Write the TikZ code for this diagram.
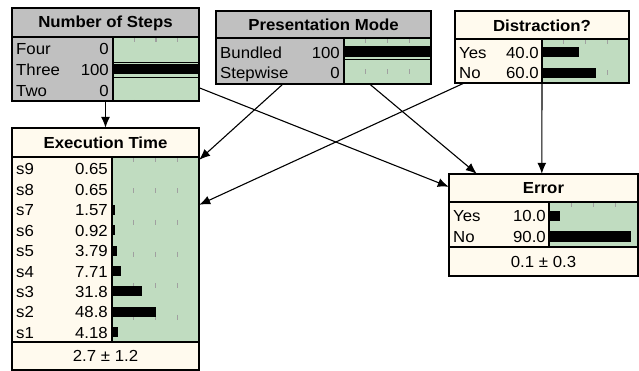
\documentclass[tikz,border=0pt]{standalone}
\usepackage{fontspec}
\setmainfont[FakeStretch=1.05]{Liberation Sans}
\usetikzlibrary{arrows.meta}
\usetikzlibrary{calc}
\definecolor{evidgray}{RGB}{192,192,192}
\definecolor{nodecream}{RGB}{255,250,238}
\definecolor{bargreen}{RGB}{192,220,192}
\definecolor{tickgray}{RGB}{160,160,160}

\begin{document}
\begin{tikzpicture}[x=1pt, y=-1pt,
  every node/.style={inner sep=0pt, font=\fontsize{16}{18}\selectfont},
  title/.style={font=\fontsize{16}{18}\selectfont\bfseries},
  frame/.style={line width=1.5pt},
  sep/.style={line width=1.3pt},
  tick/.style={tickgray, line width=1.2pt, dash pattern=on 5pt off 26.5pt},
  link/.style={line width=1.1pt, -{Latex[length=11pt,width=9pt]}}]
\useasboundingbox (0,0) rectangle (639,371);

% Number of Steps
\node[fill=evidgray, minimum width=187pt, minimum height=93pt] (steps) at (105.5,54.5) {};
\node[title] (stepsT) at (105.5,23) {Number of Steps};
\fill[bargreen] (113,37) rectangle (199,101);
\foreach \x in {0.25,0.5,0.75} \draw[tick] (113+86*\x,37) -- (113+86*\x,101);
\foreach \lab/\val [count=\i] in {Four/0,Three/100,Two/0} {
  \pgfmathsetmacro\y{48.5+(\i-1)*21}
  \pgfmathsetmacro\w{\val>0.8 ? min(86,0.86*\val+2) : 0}
  \node[anchor=base west] (steps-l\i) at (16,\y+6) {\lab};
  \node[anchor=base east] (steps-v\i) at (109,\y+6) {\val};
  \fill (113,\y-5) rectangle ++(\w,10);
}
\draw[line width=0.8pt] (113,62) -- (199,62) (113,77) -- (199,77);
\draw[sep] (12,37) -- (199,37) (113,37) -- (113,101);
\draw[frame] (steps.north west) rectangle (steps.south east);

% Presentation Mode
\node[fill=evidgray, minimum width=215pt, minimum height=73pt] (mode) at (323.5,47.5) {};
\node[title] (modeT) at (323.5,25) {Presentation Mode};
\fill[bargreen] (344,38) rectangle (431,84);
\foreach \x in {0.25,0.5,0.75} \draw[tick] (344+87*\x,38) -- (344+87*\x,84);
\foreach \lab/\val [count=\i] in {Bundled/100,Stepwise/0} {
  \pgfmathsetmacro\y{52.5+(\i-1)*20.5}
  \pgfmathsetmacro\w{\val>0.8 ? min(87,0.87*\val+2) : 0}
  \node[anchor=base west] (mode-l\i) at (220,\y+6) {\lab};
  \node[anchor=base east] (mode-v\i) at (340,\y+6) {\val};
  \fill (344,\y-5) rectangle ++(\w,10);
}
\draw[line width=0.8pt] (344,46) -- (431,46) (344,59) -- (431,59);
\draw[sep] (216,38) -- (431,38) (344,38) -- (344,84);
\draw[frame] (mode.north west) rectangle (mode.south east);

% Distraction?
\node[fill=nodecream, minimum width=174pt, minimum height=72pt] (distr) at (542,47) {};
\node[title] (distrT) at (542,25.5) {Distraction?};
\fill[bargreen] (542,39) rectangle (629,83);
\foreach \x in {0.25,0.5,0.75} \draw[tick] (542+87*\x,39) -- (542+87*\x,83);
\foreach \lab/\val [count=\i] in {Yes/40.0,No/60.0} {
  \pgfmathsetmacro\y{52.5+(\i-1)*20.5}
  \pgfmathsetmacro\w{\val>0.8 ? min(87,0.87*\val+2) : 0}
  \node[anchor=base west] (distr-l\i) at (459,\y+6) {\lab};
  \node[anchor=base east] (distr-v\i) at (539,\y+6) {\val};
  \fill (542,\y-5) rectangle ++(\w,10);
}
\draw[sep] (455,39) -- (629,39) (542,39) -- (542,83);
\draw[frame] (distr.north west) rectangle (distr.south east);

% Execution Time
\node[fill=nodecream, minimum width=187pt, minimum height=242pt] (exec) at (105.5,249) {};
\node[title] (execT) at (105.5,142.5) {Execution Time};
\fill[bargreen] (112,157) rectangle (199,342);
\foreach \x in {0.25,0.5,0.75} \draw[tick] (112+87*\x,157) -- (112+87*\x,342);
\foreach \lab/\val [count=\i] in {s9/0.65,s8/0.65,s7/1.57,s6/0.92,s5/3.79,s4/7.71,s3/31.8,s2/48.8,s1/4.18} {
  \pgfmathsetmacro\y{169+(\i-1)*20.4}
  \pgfmathsetmacro\w{\val>0.8 ? min(87,0.87*\val+2) : 0}
  \node[anchor=base west] (exec-l\i) at (16,\y+6) {\lab};
  \node[anchor=base east] (exec-v\i) at (108,\y+6) {\val};
  \fill (112,\y-5) rectangle ++(\w,10);
}
\draw[sep] (12,157) -- (199,157) (112,157) -- (112,342) (12,342) -- (199,342);
\node (execM) at (105.5,356) {2.7 ± 1.2};
\draw[frame] (exec.north west) rectangle (exec.south east);

% Error
\node[fill=nodecream, minimum width=189pt, minimum height=102pt] (error) at (543.5,225) {};
\node[title] (errorT) at (543.5,188) {Error};
\fill[bargreen] (549,202) rectangle (638,247);
\foreach \x in {0.25,0.5,0.75} \draw[tick] (549+89*\x,202) -- (549+89*\x,247);
\foreach \lab/\val [count=\i] in {Yes/10.0,No/90.0} {
  \pgfmathsetmacro\y{216+(\i-1)*20.5}
  \pgfmathsetmacro\w{\val>0.8 ? min(89,0.89*\val+2) : 0}
  \node[anchor=base west] (error-l\i) at (453,\y+6) {\lab};
  \node[anchor=base east] (error-v\i) at (546,\y+6) {\val};
  \fill (549,\y-5) rectangle ++(\w,10);
}
\draw[sep] (449,202) -- (638,202) (549,202) -- (549,247) (449,247) -- (638,247);
\node (errorM) at (543.5,261.5) {0.1 ± 0.3};
\draw[frame] (error.north west) rectangle (error.south east);

% links
\draw[link] (steps.south) -- (exec.north);
\draw[link] ($(steps.north east)+(0,80)$) -- ($(error.north west)+(0,13)$);
\draw[link] ($(mode.south west)+(67,0)$) -- ($(exec.north east)+(0,32)$);
\draw[link] ($(mode.south west)+(154,0)$) -- ($(error.north west)+(28,0)$);
\draw[link] ($(distr.south west)+(9,0)$) -- ($(exec.north east)+(0,77)$);
\draw[link] (distr.south) -- ($(error.north west)+(93,0)$);
\end{tikzpicture}
\end{document}
